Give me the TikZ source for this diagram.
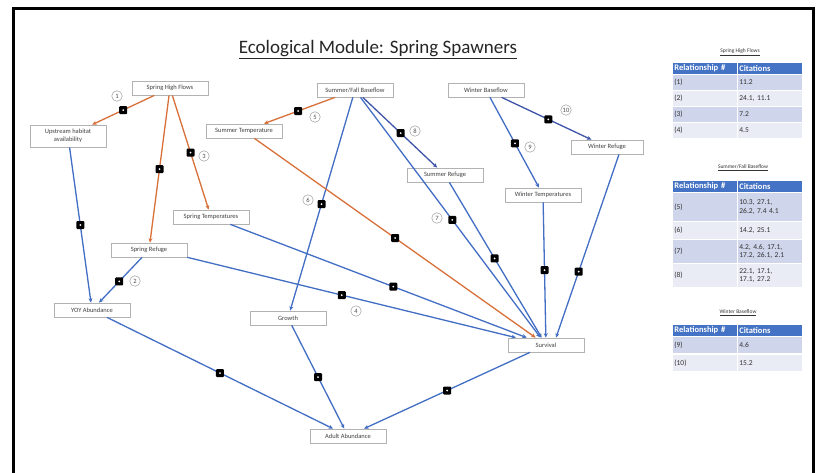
\documentclass[tikz,border=0pt]{standalone}
\usepackage{fontspec}
\setmainfont{Carlito}
\usetikzlibrary{positioning,arrows.meta,shadows}

\definecolor{edgeblue}{RGB}{66,110,196}
\definecolor{edgenavy}{RGB}{62,84,170}
\definecolor{edgeorange}{RGB}{216,112,58}
\definecolor{hdrblue}{RGB}{68,114,196}
\definecolor{rowdark}{RGB}{207,213,234}
\definecolor{rowlight}{RGB}{233,235,245}

\tikzset{
  factor/.style={draw=black!30, fill=white, line width=0.7pt, minimum width=76pt,
    minimum height=14pt, inner sep=1pt, align=center, text=black!75,
    font=\fontsize{6.5}{7.5}\selectfont,
    drop shadow={opacity=0.25, shadow xshift=1pt, shadow yshift=-1pt}},
  marker/.style={fill=black, rounded corners=1pt, minimum size=8pt, inner sep=0pt,
    path picture={\fill[white] ([shift={(-1pt,-1pt)}]path picture bounding box.center)
      rectangle ([shift={(1pt,1pt)}]path picture bounding box.center);}},
  numlabel/.style={circle, draw=black!45, fill=white, minimum size=10.5pt, inner sep=0pt,
    text=black!70, font=\fontsize{6.5}{7}\selectfont},
  blueedge/.style={draw=edgeblue},
  navyedge/.style={draw=edgenavy},
  orangeedge/.style={draw=edgeorange},
  tabtitle/.style={font=\fontsize{5.5}{6}\selectfont, text=black!80},
  hcell/.style={anchor=north west, fill=hdrblue, draw=white, line width=0.8pt,
    text=white, text width=61pt, inner xsep=2pt, inner ysep=0pt, minimum height=12pt,
    align=left, font=\bfseries\fontsize{8.5}{9}\selectfont},
  bcell/.style={anchor=north west, draw=white, line width=0.8pt, text=black!80,
    text width=61pt, inner xsep=2pt, inner ysep=0pt, align=left,
    font=\fontsize{7.5}{8.5}\selectfont},
}

\begin{document}
\begin{tikzpicture}[x=1pt, y=-1pt]

        \useasboundingbox[fill=white] (0,0) rectangle (817,472);
        \draw[line width=3pt] (13,474) -- (13,8) -- (813,8) -- (813,474);

        \node[font=\fontsize{19}{22}\selectfont, text=black!85] (title) at (378,50)
          {\underline{Ecological Module: Spring Spawners}};

        \begin{scope}[every node/.style={factor}]
          \node (shf) at (170,88)  {Spring High Flows};
          \node[minimum height=22pt] (uha) at (68,136) {Upstream habitat\\availability};
          \node (st)  at (211,217) {Spring Temperatures};
          \node (sr)  at (149,250) {Spring Refuge};
          \node (yoy) at (92,310)  {YOY Abundance};
          \node (sfb) at (355,90)  {Summer/Fall Baseflow};
          \node (sut) at (244,131) {Summer Temperature};
          \node (sur) at (445,175) {Summer Refuge};
          \node (wb)  at (486,90)  {Winter Baseflow};
          \node[minimum width=72pt] (wr) at (607,147) {Winter Refuge};
          \node (wt)  at (543,195) {Winter Temperatures};
          \node (gr)  at (288,318) {Growth};
          \node (sv)  at (546,345) {Survival};
          \node (aa)  at (348,436) {Adult Abundance};
        \end{scope}

        \begin{scope}[every edge/.style={draw, line width=1.3pt, -{Stealth[length=4.5pt,width=4pt]}}]
          % spring high flows
          \path (shf) edge[orangeedge] node[marker, pos=0.5] (m1) {} (uha);
          \path (shf) edge[orangeedge] node[marker, pos=0.5] (m2) {} (sr);
          \path (shf) edge[orangeedge] node[marker, pos=0.5] (m3) {} (st);
          \path (uha) edge[blueedge] node[marker, pos=0.5] (m4) {} (yoy);
          \path (sr) edge[blueedge] node[marker, pos=0.53] (m5) {} (yoy);
          \path (sr.south east) edge[blueedge] node[marker, pos=0.47] (m6) {} (sv);
          \path (st) edge[blueedge] node[marker, pos=0.55] (m7) {} (sv);

          % summer/fall baseflow
          \path (sfb) edge[orangeedge] node[marker, pos=0.52] (m8) {} (sut);
          \path (sfb) edge[blueedge] node[marker, pos=0.5] (m9) {} (gr);
          \path (sfb) edge[navyedge] node[marker, pos=0.51] (m10) {} (sur);
          \path (sfb) edge[blueedge] node[marker, pos=0.51] (m11) {} (sv);
          \path (sur) edge[blueedge] node[marker, pos=0.49] (m12) {} (sv);
          \path (sut) edge[orangeedge] node[marker, pos=0.5] (m13) {} (sv);

          % winter baseflow
          \path (wb) edge[blueedge] node[marker, pos=0.51] (m14) {} (wt);
          \path (wb) edge[navyedge] node[marker, pos=0.52] (m15) {} (wr);
          \path (wt) edge[blueedge] node[marker, pos=0.5] (m16) {} (sv);
          \path ([xshift=12pt]wr.south) edge[blueedge] node[marker, pos=0.64] (m17) {} ([xshift=10pt]sv.north);

          % abundance
          \path (yoy) edge[blueedge] node[marker, pos=0.5] (m18) {} (aa);
          \path (gr) edge[blueedge] node[marker, pos=0.5] (m19) {} (aa);
          \path (sv) edge[blueedge] node[marker, pos=0.5] (m20) {} (aa);
        \end{scope}

        \begin{scope}[every node/.style={numlabel}]
          \node (n1)  at (117,96)  {1};
          \node (n3)  at (204,156) {3};
          \node (n2)  at (135,281) {2};
          \node (n4)  at (356,311) {4};
          \node (n5)  at (315,117) {5};
          \node (n6)  at (308,200) {6};
          \node (n8)  at (415,131) {8};
          \node (n7)  at (437,218) {7};
          \node (n9)  at (530,147) {9};
          \node (n10) at (566,110) {10};
        \end{scope}

        % citation tables
        \node[tabtitle] (t1) at (740,52) {\underline{Spring High Flows}};
        \node[hcell] (t1ha) at (672,62) {Relationship \#};
        \node[hcell] (t1hb) at (737,62) {Citations};
        \foreach \i/\y/\rel/\cit/\c in {1/74/(1)/11.2/rowdark, 2/90/(2)/{24.1, 11.1}/rowlight,
            3/106/(3)/7.2/rowdark, 4/122/(4)/4.5/rowlight}{
          \node[bcell, fill=\c, minimum height=16pt] (t1a\i) at (672,\y) {\rel};
          \node[bcell, fill=\c, minimum height=16pt] (t1b\i) at (737,\y) {\cit};
        }

        \node[tabtitle] (t2) at (743,168) {\underline{Summer/Fall Baseflow}};
        \node[hcell] (t2ha) at (672,180) {Relationship \#};
        \node[hcell] (t2hb) at (737,180) {Citations};
        \foreach \i/\y/\h/\rel/\cit/\c in {5/192/29/(5)/{10.3, 27.1,\\26.2, 7.4 4.1}/rowdark,
            6/221/18/(6)/{14.2, 25.1}/rowlight,
            7/239/24/(7)/{4.2, 4.6, 17.1,\\17.2, 26.1, 2.1}/rowdark,
            8/263/24/(8)/{22.1, 17.1,\\17.1, 27.2}/rowlight}{
          \node[bcell, fill=\c, minimum height=\h pt] (t2a\i) at (672,\y) {\rel};
          \node[bcell, fill=\c, minimum height=\h pt] (t2b\i) at (737,\y) {\cit};
        }

        \node[tabtitle] (t3) at (738,313) {\underline{Winter Baseflow}};
        \node[hcell] (t3ha) at (672,324) {Relationship \#};
        \node[hcell] (t3hb) at (737,324) {Citations};
        \foreach \i/\y/\rel/\cit/\c in {9/336/(9)/4.6/rowdark, 10/354/(10)/15.2/rowlight}{
          \node[bcell, fill=\c, minimum height=17pt] (t3a\i) at (672,\y) {\rel};
          \node[bcell, fill=\c, minimum height=17pt] (t3b\i) at (737,\y) {\cit};
        }

      \end{tikzpicture}
\end{document}
